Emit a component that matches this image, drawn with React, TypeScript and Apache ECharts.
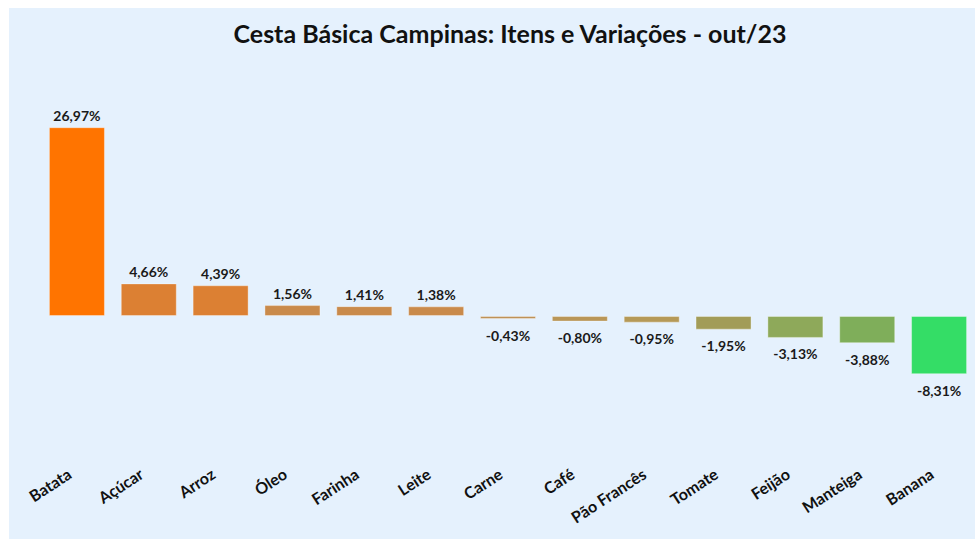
import React, { useEffect, useRef } from "react";
import * as echarts from "echarts";

const title = "Cesta Básica Campinas: Itens e Variações - out/23";
const categories = ["Batata", "Açúcar", "Arroz", "Óleo", "Farinha", "Leite", "Carne", "Café", "Pão Francês", "Tomate", "Feijão", "Manteiga", "Banana"];
const values = [26.97, 4.66, 4.39, 1.56, 1.41, 1.38, -0.43, -0.8, -0.95, -1.95, -3.13, -3.88, -8.31];
const barColors = ["#FF7400", "#DC8033", "#DC8033", "#C98A4B", "#C98A4B", "#C98A4B", "#BE9257", "#B99657", "#B59957", "#A29C58", "#8EA95A", "#7FAE5A", "#34DD66"];

const FONT = "Lato, 'Open Sans', sans-serif";

export default function App() {
  const ref = useRef<HTMLDivElement>(null);
  useEffect(() => {
    if (!ref.current) return;
    const chart = echarts.init(ref.current, undefined, { renderer: "svg" });
    chart.setOption({
      animation: false,
      backgroundColor: "#E5F1FD",
      graphic: [
        {
          type: "text",
          x: 501,
          y: 25,
          style: {
            text: title,
            font: `bold 25px ${FONT}`,
            fill: "#111111",
            textAlign: "center",
            textVerticalAlign: "middle",
          },
        },
      ],
      grid: { left: 32, width: 936, top: 98, height: 350, containLabel: false },
      xAxis: {
        type: "category",
        data: categories,
        axisLine: { show: false },
        axisTick: { show: false },
        axisLabel: {
          interval: 0,
          rotate: 33,
          margin: 11,
          padding: [0, 9, 0, 0],
          fontFamily: FONT,
          fontWeight: "bold",
          fontSize: 16,
          color: "#111111",
        },
      },
      yAxis: {
        type: "value",
        min: -20,
        max: 30,
        show: false,
        splitLine: { show: false },
      },
      series: [
        {
          type: "bar",
          barWidth: 56,
          data: values.map((v, i) => ({
            value: v,
            itemStyle: { color: barColors[i], borderColor: "rgba(255,255,255,0.35)", borderWidth: 1 },
            label: {
              show: true,
              position: v >= 0 ? "top" : "bottom",
              distance: v >= 0 ? 5 : 9,
            },
          })),
          label: {
            show: true,
            fontFamily: FONT,
            fontWeight: "bold",
            fontSize: 14,
            color: "#1a1a1a",
            formatter: (p: any) => p.value.toFixed(2).replace(".", ",") + "%",
          },
        },
      ],
    });
    return () => chart.dispose();
  }, []);
  return (
    <div
      ref={ref}
      style={{ position: "fixed", left: 9, top: 8, width: 966, height: 531 }}
    />
  );
}
